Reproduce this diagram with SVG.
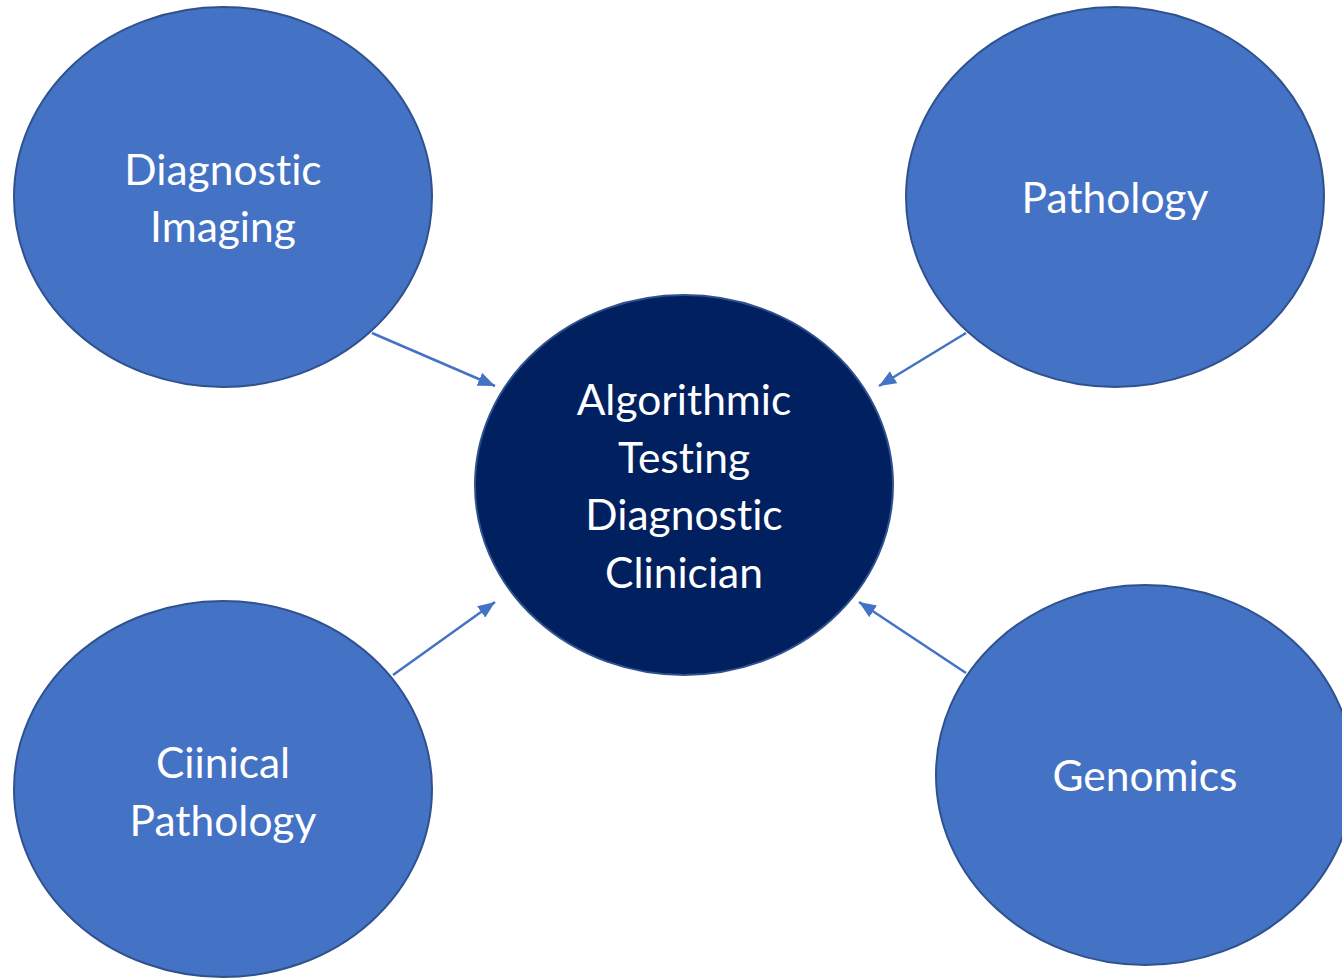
<svg xmlns="http://www.w3.org/2000/svg" width="1342" height="978" viewBox="0 0 1342 978">
<style>
.n{fill:#4472C4;stroke:#2F528F;stroke-width:2}
.c{fill:#002060;stroke:#2F528F;stroke-width:2}
.t{fill:#fff;font-family:Lato,"Liberation Sans",sans-serif;font-size:42.5px;text-anchor:middle;font-variant-ligatures:none;font-feature-settings:"liga" 0}
.e{stroke:#4472C4;stroke-width:2.5;fill:none;marker-end:url(#ah)}
</style>
<defs>
<marker id="ah" markerUnits="userSpaceOnUse" markerWidth="18" markerHeight="14" refX="17" refY="7" orient="auto">
<path d="M0,0 L17,7 L0,14 Z" fill="#4472C4"/>
</marker>
</defs>
<rect width="1342" height="978" fill="#fff"/>
<g id="edges">
<line class="e" x1="372" y1="333" x2="495" y2="386"/>
<line class="e" x1="966" y1="333" x2="879" y2="386"/>
<line class="e" x1="393" y1="675" x2="495" y2="602"/>
<line class="e" x1="966" y1="673" x2="859" y2="602"/>
</g>
<g id="imaging">
<ellipse class="n" cx="223" cy="197" rx="209" ry="190"/>
<text class="t" x="223" y="185">Diagnostic</text>
<text class="t" x="223" y="242">Imaging</text>
</g>
<g id="pathology">
<ellipse class="n" cx="1115" cy="197" rx="209" ry="190"/>
<text class="t" x="1115" y="213">Pathology</text>
</g>
<g id="center">
<ellipse class="c" cx="684" cy="485" rx="209" ry="190"/>
<text class="t" x="684" y="415">Algorithmic</text>
<text class="t" x="684" y="473">Testing</text>
<text class="t" x="684" y="530">Diagnostic</text>
<text class="t" x="684" y="588">Clinician</text>
</g>
<g id="clinical">
<ellipse class="n" cx="223" cy="789" rx="209" ry="188"/>
<text class="t" x="223" y="778">Ciinical</text>
<text class="t" x="223" y="836">Pathology</text>
</g>
<g id="genomics">
<ellipse class="n" cx="1145" cy="775" rx="209" ry="190"/>
<text class="t" x="1145" y="791">Genomics</text>
</g>
</svg>
